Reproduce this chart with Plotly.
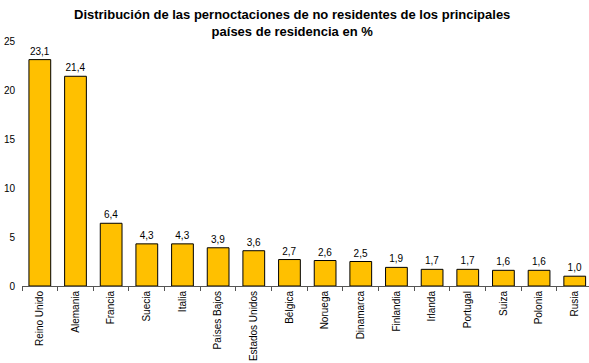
import plotly.graph_objects as go

categories = ["Reino Unido", "Alemania", "Francia", "Suecia", "Italia", "Países Bajos",
              "Estados Unidos", "Bélgica", "Noruega", "Dinamarca", "Finlandia", "Irlanda",
              "Portugal", "Suiza", "Polonia", "Rusia"]
values = [23.1, 21.4, 6.4, 4.3, 4.3, 3.9, 3.6, 2.7, 2.6, 2.5, 1.9, 1.7, 1.7, 1.6, 1.6, 1.0]
y_ticks = [0, 5, 10, 15, 20, 25]

FONT = "Liberation Sans, Arial"

fig = go.Figure(go.Bar(
    x=categories, y=values,
    marker=dict(color="#FFC000", line=dict(color="#000000", width=1)),
    texttemplate="%{y:.1f}", textposition="outside", cliponaxis=False,
    textfont=dict(family=FONT, size=10, color="black"),
))

fig.update_layout(
    width=589, height=363,
    margin=dict(l=22, r=0, t=41, b=77, autoexpand=False),
    paper_bgcolor="white", plot_bgcolor="white",
    separators=",.",
    bargap=0.39,
    showlegend=False,
)
fig.add_annotation(
    text="<b>Distribución de las pernoctaciones de no residentes de los principales<br>países de residencia en %</b>",
    xref="paper", yref="paper", x=0.476, y=1 + 36 / 245, xanchor="center", yanchor="top",
    showarrow=False, align="center",
    font=dict(family=FONT, size=13, color="black"),
)
fig.update_xaxes(
    type="category", range=[-0.5, 15.4], automargin=False,
    showline=True, linecolor="#555555", linewidth=1,
    ticks="outside", tickson="boundaries", ticklen=4, tickcolor="#555555",
    tickangle=-90, showgrid=False,
    tickfont=dict(family=FONT, size=10, color="black"),
)
fig.update_yaxes(
    range=[0, 25], tickvals=y_ticks, showgrid=False, zeroline=False, automargin=False,
    showline=False, ticks="", ticklabelstandoff=6,
    tickfont=dict(family=FONT, size=10, color="black"),
)

fig.write_html(
    "out.html",
    config={"displayModeBar": False},
    post_script="document.body.style.margin='0';document.body.style.overflow='hidden';",
)
